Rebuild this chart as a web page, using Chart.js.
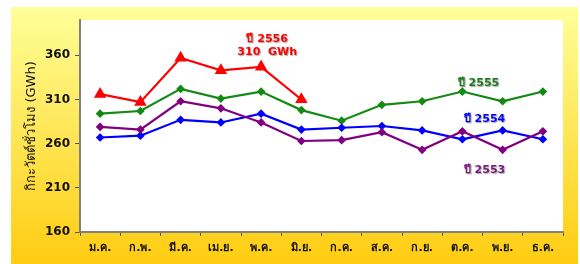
<!DOCTYPE html>
<html>
<head>
<meta charset="utf-8">
<script src="https://cdn.jsdelivr.net/npm/chart.js@4.4.0/dist/chart.umd.min.js"></script>
<style>
  html, body { margin: 0; padding: 0; background: #fff; }
  #wrap { width: 580px; height: 264px; }
</style>
</head>
<body>
<div id="wrap"><canvas id="lineChart" width="580" height="264"></canvas></div>
<script>
var months = ['ม.ค.', 'ก.พ.', 'มี.ค.', 'เม.ย.', 'พ.ค.', 'มิ.ย.', 'ก.ค.', 'ส.ค.', 'ก.ย.', 'ต.ค.', 'พ.ย.', 'ธ.ค.'];
var y2556 = [316, 307, 357, 343, 347, 310, null, null, null, null, null, null];
var y2555 = [294, 297, 322, 311, 319, 298, 286, 304, 308, 319, 308, 319];
var y2554 = [267, 269, 287, 284, 294, 276, 278, 280, 275, 265, 275, 265];
var y2553 = [279, 276, 308, 300, 284, 263, 264, 273, 253, 274, 253, 274];
var yTicks = [160, 210, 260, 310, 360];

var fontFamily = 'Tahoma, "DejaVu Sans", "Noto Sans", sans-serif';

// text labels next to the lines: [text lines, colour, month index, value]
var notes = [
    [['ปี 2556', '310  GWh'], '#ff0000', 4.15, 378],
    [['ปี 2555'], '#1b7a1b', 9.4, 329],
    [['ปี 2554'], '#0000ff', 9.55, 288],
    [['ปี 2553'], '#7a1a7a', 9.55, 230]
];

const backdrop = {
    id: 'backdrop',
    beforeDraw(chart) {
        const ctx = chart.ctx;
        const a = chart.chartArea;
        ctx.save();
        ctx.fillStyle = '#ffffff';
        ctx.fillRect(0, 0, chart.width, chart.height);
        const g = ctx.createLinearGradient(0, 7, 0, chart.height);
        g.addColorStop(0, '#ffff99');
        g.addColorStop(1, '#ffcc11');
        ctx.fillStyle = g;
        ctx.fillRect(11, 7, 567, chart.height - 7);
        ctx.fillStyle = '#ffffff';
        ctx.fillRect(a.left, a.top, a.right - a.left, a.bottom - a.top);
        ctx.restore();
    },
    afterDatasetsDraw(chart) {
        const ctx = chart.ctx;
        const xs = chart.scales.x, ys = chart.scales.y;
        ctx.save();
        ctx.font = 'bold 11px ' + fontFamily;
        ctx.textAlign = 'center';
        ctx.textBaseline = 'middle';
        ctx.shadowColor = 'rgba(0,0,0,0.35)';
        ctx.shadowOffsetX = 1;
        ctx.shadowOffsetY = 1;
        ctx.shadowBlur = 1;
        notes.forEach(function (n) {
            const x = xs.getPixelForValue(n[2]);
            const y = ys.getPixelForValue(n[3]);
            ctx.fillStyle = n[1];
            n[0].forEach(function (t, i) {
                ctx.fillText(t, x, y + i * 13);
            });
        });
        ctx.restore();
    }
};

function series(label, data, color, style, radius) {
    return {
        label: label,
        data: data,
        borderColor: color,
        backgroundColor: color,
        borderWidth: 2.2,
        pointStyle: style,
        pointRadius: radius,
        pointHoverRadius: radius,
        tension: 0,
        spanGaps: false
    };
}

new Chart(document.getElementById('lineChart'), {
    type: 'line',
    data: {
        labels: months,
        datasets: [
            series('ปี 2553', y2553, '#800080', 'rectRot', 2.8),
            series('ปี 2554', y2554, '#0000ff', 'rectRot', 2.8),
            series('ปี 2555', y2555, '#138a13', 'rectRot', 2.8),
            series('ปี 2556', y2556, '#ff0000', 'triangle', 5)
        ]
    },
    plugins: [backdrop],
    options: {
        responsive: false,
        animation: false,
        layout: { padding: { left: 0, right: 17, top: 20, bottom: 0 } },
        plugins: {
            legend: { display: false },
            tooltip: { enabled: false }
        },
        scales: {
            x: {
                offset: true,
                afterFit: function (s) { s.height = 32; },
                grid: {
                    offset: true,
                    drawOnChartArea: false,
                    tickLength: 4,
                    color: '#555555'
                },
                border: { color: '#808080', width: 2 },
                ticks: {
                    color: '#111111',
                    padding: 6,
                    maxRotation: 0,
                    autoSkip: false,
                    font: { family: fontFamily, size: 11, weight: 'bold' }
                }
            },
            y: {
                min: 160,
                max: 400,
                afterFit: function (s) { s.width = 80; },
                afterBuildTicks: function (s) {
                    s.ticks = yTicks.map(function (v) { return { value: v }; });
                },
                grid: {
                    drawOnChartArea: false,
                    tickLength: 5,
                    color: '#555555'
                },
                border: { color: '#808080', width: 2 },
                ticks: {
                    color: '#111111',
                    padding: 5,
                    font: { family: fontFamily, size: 12, weight: 'bold' }
                },
                title: {
                    display: true,
                    text: 'กิกะวัตต์ชั่วโมง (GWh)',
                    color: '#111111',
                    padding: { top: 24, bottom: 0 },
                    font: { family: fontFamily, size: 13 }
                }
            }
        }
    }
});
</script>
</body>
</html>
